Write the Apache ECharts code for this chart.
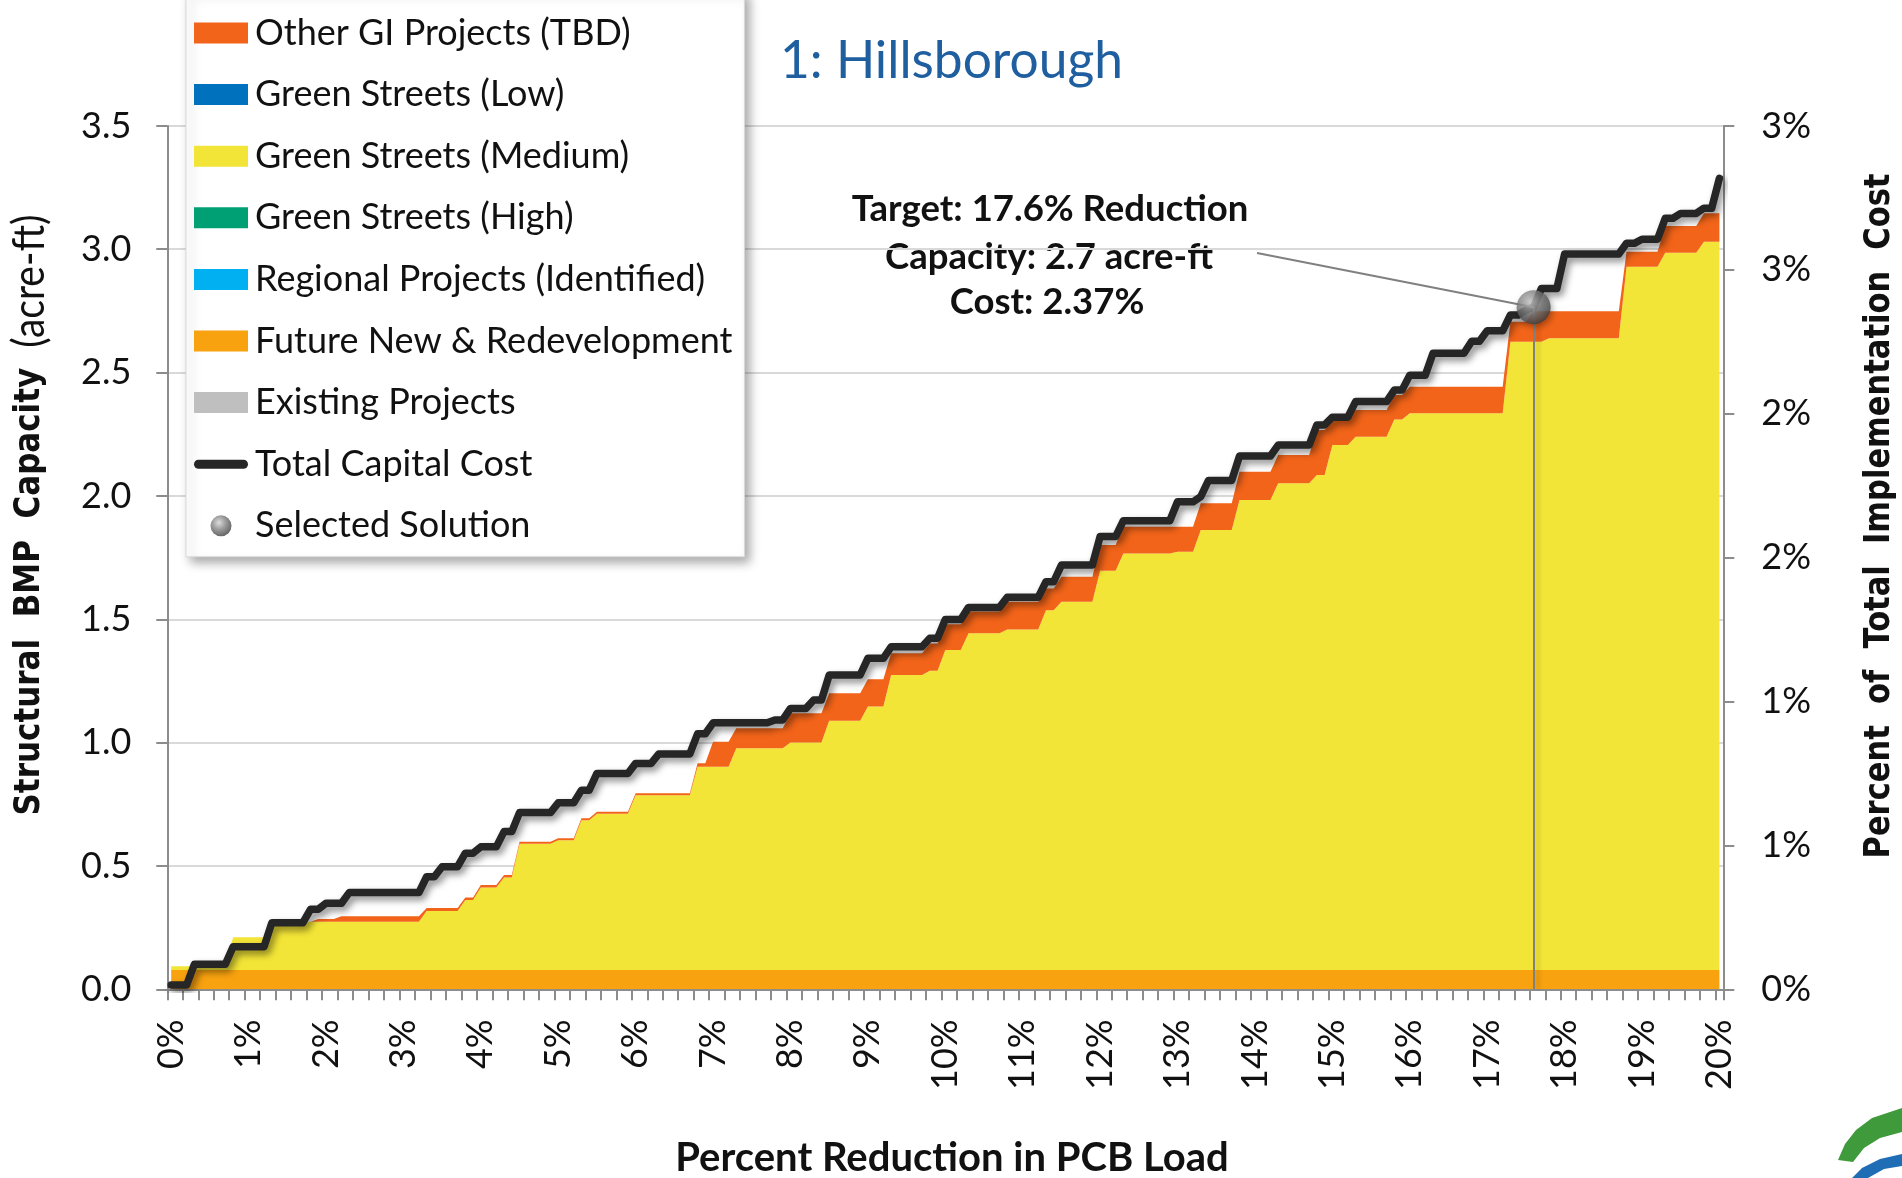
<!DOCTYPE html>
<html><head><meta charset="utf-8">
<script src="https://cdn.jsdelivr.net/npm/echarts@6/dist/echarts.min.js"></script>
<style>html,body{margin:0;padding:0;background:#fff}#c{width:1902px;height:1178px}</style>
</head><body><div id="c"></div>
<script>
// ---- categories: percent reduction in PCB load (0.1% steps) ----
const categories = [
"0.0","0.1","0.2","0.3","0.4","0.5","0.6","0.7","0.8","0.9",
"1.0","1.1","1.2","1.3","1.4","1.5","1.6","1.7","1.8","1.9",
"2.0","2.1","2.2","2.3","2.4","2.5","2.6","2.7","2.8","2.9",
"3.0","3.1","3.2","3.3","3.4","3.5","3.6","3.7","3.8","3.9",
"4.0","4.1","4.2","4.3","4.4","4.5","4.6","4.7","4.8","4.9",
"5.0","5.1","5.2","5.3","5.4","5.5","5.6","5.7","5.8","5.9",
"6.0","6.1","6.2","6.3","6.4","6.5","6.6","6.7","6.8","6.9",
"7.0","7.1","7.2","7.3","7.4","7.5","7.6","7.7","7.8","7.9",
"8.0","8.1","8.2","8.3","8.4","8.5","8.6","8.7","8.8","8.9",
"9.0","9.1","9.2","9.3","9.4","9.5","9.6","9.7","9.8","9.9",
"10.0","10.1","10.2","10.3","10.4","10.5","10.6","10.7","10.8","10.9",
"11.0","11.1","11.2","11.3","11.4","11.5","11.6","11.7","11.8","11.9",
"12.0","12.1","12.2","12.3","12.4","12.5","12.6","12.7","12.8","12.9",
"13.0","13.1","13.2","13.3","13.4","13.5","13.6","13.7","13.8","13.9",
"14.0","14.1","14.2","14.3","14.4","14.5","14.6","14.7","14.8","14.9",
"15.0","15.1","15.2","15.3","15.4","15.5","15.6","15.7","15.8","15.9",
"16.0","16.1","16.2","16.3","16.4","16.5","16.6","16.7","16.8","16.9",
"17.0","17.1","17.2","17.3","17.4","17.5","17.6","17.7","17.8","17.9",
"18.0","18.1","18.2","18.3","18.4","18.5","18.6","18.7","18.8","18.9",
"19.0","19.1","19.2","19.3","19.4","19.5","19.6","19.7","19.8","19.9",
"20.0"];

// ---- stacked capacity layers (acre-ft) ----
const futureDev = [
0.078,0.078,0.078,0.078,0.078,0.078,0.078,0.078,0.078,0.078,
0.078,0.078,0.078,0.078,0.078,0.078,0.078,0.078,0.078,0.078,
0.078,0.078,0.078,0.078,0.078,0.078,0.078,0.078,0.078,0.078,
0.078,0.078,0.078,0.078,0.078,0.078,0.078,0.078,0.078,0.078,
0.078,0.078,0.078,0.078,0.078,0.078,0.078,0.078,0.078,0.078,
0.078,0.078,0.078,0.078,0.078,0.078,0.078,0.078,0.078,0.078,
0.078,0.078,0.078,0.078,0.078,0.078,0.078,0.078,0.078,0.078,
0.078,0.078,0.078,0.078,0.078,0.078,0.078,0.078,0.078,0.078,
0.078,0.078,0.078,0.078,0.078,0.078,0.078,0.078,0.078,0.078,
0.078,0.078,0.078,0.078,0.078,0.078,0.078,0.078,0.078,0.078,
0.078,0.078,0.078,0.078,0.078,0.078,0.078,0.078,0.078,0.078,
0.078,0.078,0.078,0.078,0.078,0.078,0.078,0.078,0.078,0.078,
0.078,0.078,0.078,0.078,0.078,0.078,0.078,0.078,0.078,0.078,
0.078,0.078,0.078,0.078,0.078,0.078,0.078,0.078,0.078,0.078,
0.078,0.078,0.078,0.078,0.078,0.078,0.078,0.078,0.078,0.078,
0.078,0.078,0.078,0.078,0.078,0.078,0.078,0.078,0.078,0.078,
0.078,0.078,0.078,0.078,0.078,0.078,0.078,0.078,0.078,0.078,
0.078,0.078,0.078,0.078,0.078,0.078,0.078,0.078,0.078,0.078,
0.078,0.078,0.078,0.078,0.078,0.078,0.078,0.078,0.078,0.078,
0.078,0.078,0.078,0.078,0.078,0.078,0.078,0.078,0.078,0.078,
0.078];

const greenMedium = [
0.015,0.015,0.015,0.015,0.015,0.015,0.015,0.015,0.133,0.133,
0.133,0.133,0.133,0.196,0.196,0.196,0.196,0.196,0.196,0.196,
0.196,0.196,0.196,0.196,0.196,0.196,0.196,0.196,0.196,0.196,
0.196,0.196,0.196,0.239,0.239,0.239,0.239,0.239,0.284,0.284,
0.335,0.335,0.335,0.375,0.375,0.512,0.512,0.512,0.512,0.512,
0.526,0.526,0.526,0.607,0.607,0.634,0.634,0.634,0.634,0.634,
0.709,0.709,0.709,0.709,0.709,0.709,0.709,0.709,0.824,0.824,
0.824,0.824,0.824,0.899,0.899,0.899,0.899,0.899,0.899,0.899,
0.922,0.922,0.922,0.922,0.922,1.011,1.011,1.011,1.011,1.011,
1.068,1.068,1.068,1.196,1.196,1.196,1.196,1.196,1.213,1.213,
1.297,1.297,1.297,1.365,1.365,1.365,1.365,1.365,1.381,1.381,
1.381,1.381,1.381,1.459,1.459,1.493,1.493,1.493,1.493,1.493,
1.619,1.619,1.619,1.689,1.689,1.689,1.689,1.689,1.689,1.689,
1.696,1.696,1.696,1.784,1.784,1.784,1.784,1.784,1.905,1.905,
1.905,1.905,1.905,1.973,1.973,1.973,1.973,1.973,2.007,2.007,
2.128,2.128,2.128,2.162,2.162,2.162,2.162,2.162,2.232,2.232,
2.257,2.257,2.257,2.257,2.257,2.257,2.257,2.257,2.257,2.257,
2.257,2.257,2.257,2.547,2.547,2.547,2.547,2.547,2.561,2.561,
2.561,2.561,2.561,2.561,2.561,2.561,2.561,2.561,2.851,2.851,
2.851,2.851,2.851,2.908,2.908,2.908,2.908,2.908,2.952,2.952,
2.952];

const otherGI = [
0,0,0,0,0,0,0,0,0,0,
0,0,0,0,0,0,0,0,0,0.011,
0.011,0.011,0.022,0.022,0.022,0.022,0.022,0.022,0.022,0.022,
0.022,0.022,0.022,0.013,0.013,0.013,0.013,0.013,0.010,0.010,
0.010,0.010,0.010,0.010,0.010,0.008,0.008,0.008,0.008,0.008,
0.008,0.008,0.008,0.008,0.008,0.008,0.008,0.008,0.008,0.008,
0.008,0.008,0.008,0.008,0.008,0.008,0.008,0.008,0.014,0.014,
0.102,0.102,0.102,0.081,0.081,0.081,0.081,0.081,0.081,0.081,
0.119,0.119,0.119,0.119,0.119,0.111,0.111,0.111,0.111,0.111,
0.111,0.111,0.111,0.088,0.088,0.088,0.088,0.088,0.111,0.111,
0.105,0.105,0.105,0.088,0.088,0.088,0.088,0.088,0.112,0.112,
0.112,0.112,0.112,0.088,0.088,0.101,0.101,0.101,0.101,0.101,
0.104,0.104,0.104,0.108,0.108,0.108,0.108,0.108,0.108,0.108,
0.101,0.101,0.101,0.108,0.108,0.108,0.108,0.108,0.115,0.115,
0.115,0.115,0.115,0.115,0.115,0.115,0.115,0.115,0.182,0.182,
0.104,0.104,0.104,0.108,0.108,0.108,0.108,0.108,0.099,0.099,
0.108,0.108,0.108,0.108,0.108,0.108,0.108,0.108,0.108,0.108,
0.108,0.108,0.108,0.081,0.081,0.081,0.124,0.124,0.110,0.110,
0.110,0.110,0.110,0.110,0.110,0.110,0.110,0.110,0.061,0.061,
0.061,0.061,0.061,0.108,0.108,0.108,0.108,0.108,0.116,0.116,
0.116];

const existingProjects = [];
const regionalProjects = [];
const greenHigh = [];
const greenLow = [];

// ---- total capital cost (% of total implementation cost) ----
const totalCost = [
0.015,0.015,0.015,0.087,0.087,0.087,0.087,0.087,0.148,0.148,
0.148,0.148,0.148,0.231,0.231,0.231,0.231,0.231,0.278,0.278,
0.299,0.299,0.299,0.336,0.336,0.336,0.336,0.336,0.336,0.336,
0.336,0.336,0.336,0.391,0.391,0.426,0.426,0.426,0.473,0.473,
0.495,0.495,0.495,0.548,0.548,0.614,0.614,0.614,0.614,0.614,
0.648,0.648,0.648,0.692,0.692,0.750,0.750,0.750,0.750,0.750,
0.785,0.785,0.785,0.818,0.818,0.818,0.818,0.818,0.888,0.888,
0.926,0.926,0.926,0.926,0.926,0.926,0.926,0.926,0.936,0.936,
0.976,0.976,0.976,1.005,1.005,1.092,1.092,1.092,1.092,1.092,
1.150,1.150,1.150,1.190,1.190,1.190,1.190,1.190,1.220,1.220,
1.285,1.285,1.285,1.327,1.327,1.327,1.327,1.327,1.362,1.362,
1.362,1.362,1.362,1.416,1.416,1.474,1.474,1.474,1.474,1.474,
1.573,1.573,1.573,1.628,1.628,1.628,1.628,1.628,1.628,1.628,
1.694,1.694,1.694,1.712,1.768,1.768,1.768,1.768,1.853,1.853,
1.853,1.853,1.853,1.891,1.891,1.891,1.891,1.891,1.961,1.961,
1.988,1.988,1.988,2.042,2.042,2.042,2.042,2.042,2.082,2.082,
2.134,2.134,2.134,2.210,2.210,2.210,2.210,2.210,2.252,2.252,
2.288,2.288,2.288,2.343,2.343,2.360,2.370,2.435,2.435,2.435,
2.555,2.555,2.555,2.555,2.555,2.555,2.555,2.555,2.592,2.592,
2.606,2.606,2.606,2.679,2.679,2.696,2.696,2.696,2.714,2.714,
2.818];

const selectedPoint = ["17.6", 2.37];
const annotationLines = ["Target: 17.6% Reduction", "Capacity: 2.7 acre-ft", "Cost: 2.37%"];
const leftAxis = {min: 0, max: 3.5, interval: 0.5};
const rightAxis = {min: 0, max: 3, interval: 0.5};

const FONT = 'Lato';
const C = {
  other: '#F26419', low: '#0071BC', medium: '#F3E537', high: '#00A074',
  regional: '#00B0F0', future: '#F8A20F', existing: '#BFBFBF', line: '#262626'
};
const ballColor = {type: 'radial', x: 0.4, y: 0.35, r: 0.7, colorStops: [
  {offset: 0, color: '#d4d4d4'}, {offset: 0.45, color: '#858585'}, {offset: 1, color: '#383838'}]};

function area(name, data, color, stacked) {
  const s = {name, type: 'line', data, yAxisIndex: 0, symbol: 'none', showSymbol: false,
    color: color, lineStyle: {width: 0, color: color}, itemStyle: {color: color},
    areaStyle: {color: color, opacity: 1}, emphasis: {disabled: true}, silent: true, z: 2};
  if (stacked) s.stack = 'capacity';
  return s;
}

const chart = echarts.init(document.getElementById('c'), null, {renderer: 'canvas'});
chart.setOption({
  animation: false,
  backgroundColor: '#ffffff',
  grid: {left: 167.3, right: 178.7, top: 125.9, bottom: 188.7, containLabel: false},
  legend: {
    orient: 'vertical', left: 186, top: -8,
    padding: [21, 12, 11, 8], itemGap: 21.6, itemWidth: 54, itemHeight: 21,
    backgroundColor: '#ffffff', borderColor: '#d9d9d9', borderWidth: 1,
    shadowColor: 'rgba(0,0,0,0.35)', shadowBlur: 10, shadowOffsetX: 5, shadowOffsetY: 5,
    selectedMode: false,
    textStyle: {fontFamily: FONT, fontSize: 36, color: '#111', lineHeight: 40, padding: [0, 0, 0, 2]},
    data: [
      {name: 'Other GI Projects (TBD)', icon: 'rect', itemStyle: {color: C.other, borderWidth: 0}},
      {name: 'Green Streets (Low)', icon: 'rect', itemStyle: {color: C.low, borderWidth: 0}},
      {name: 'Green Streets (Medium)', icon: 'rect', itemStyle: {color: C.medium, borderWidth: 0}},
      {name: 'Green Streets (High)', icon: 'rect', itemStyle: {color: C.high, borderWidth: 0}},
      {name: 'Regional Projects (Identified)', icon: 'rect', itemStyle: {color: C.regional, borderWidth: 0}},
      {name: 'Future New & Redevelopment', icon: 'rect', itemStyle: {color: C.future, borderWidth: 0}},
      {name: 'Existing Projects', icon: 'rect', itemStyle: {color: C.existing, borderWidth: 0}},
      {name: 'Total Capital Cost', icon: 'path://M5,0 L55,0 A5,5 0 0 1 55,10 L5,10 A5,5 0 0 1 5,0 Z', itemStyle: {color: C.line, borderWidth: 0}},
      {name: 'Selected Solution', icon: 'circle', itemStyle: {color: ballColor, borderWidth: 0}}
    ]
  },
  xAxis: {
    type: 'category', data: categories, boundaryGap: true,
    axisLine: {show: true, lineStyle: {color: '#8c8c8c', width: 2}},
    axisTick: {show: true, interval: 1, length: 11, lineStyle: {color: '#8c8c8c', width: 2}},
    axisLabel: {interval: 9, rotate: 90, margin: 30, fontFamily: FONT, fontSize: 36, color: '#111',
      formatter: v => parseFloat(v) + '%'},
    splitLine: {show: false}
  },
  yAxis: [
    {type: 'value', position: 'left', min: leftAxis.min, max: leftAxis.max, interval: leftAxis.interval,
      axisLine: {show: true, lineStyle: {color: '#8c8c8c', width: 2}},
      axisTick: {show: true, length: 11, lineStyle: {color: '#8c8c8c', width: 2}},
      axisLabel: {margin: 36, fontFamily: FONT, fontSize: 36, color: '#111', formatter: v => v.toFixed(1)},
      splitLine: {show: true, lineStyle: {color: '#d9d9d9', width: 2}}},
    {type: 'value', position: 'right', min: rightAxis.min, max: rightAxis.max, interval: rightAxis.interval,
      axisLine: {show: true, lineStyle: {color: '#8c8c8c', width: 2}},
      axisTick: {show: true, length: 11, lineStyle: {color: '#8c8c8c', width: 2}},
      axisLabel: {margin: 38, fontFamily: FONT, fontSize: 36, color: '#111', formatter: v => Math.round(v) + '%'},
      splitLine: {show: false}}
  ],
  series: [
    area('Existing Projects', existingProjects, C.existing, false),
    area('Future New & Redevelopment', futureDev, C.future, true),
    area('Regional Projects (Identified)', regionalProjects, C.regional, false),
    area('Green Streets (High)', greenHigh, C.high, false),
    area('Green Streets (Medium)', greenMedium, C.medium, true),
    area('Green Streets (Low)', greenLow, C.low, false),
    area('Other GI Projects (TBD)', otherGI, C.other, true),
    {name: 'Total Capital Cost', type: 'line', yAxisIndex: 1, data: totalCost, symbol: 'none', showSymbol: false,
      color: C.line, itemStyle: {color: C.line},
      lineStyle: {color: C.line, width: 7.5, join: 'round', cap: 'round',
        shadowColor: 'rgba(0,0,0,0.45)', shadowBlur: 7, shadowOffsetX: 3, shadowOffsetY: 4},
      emphasis: {disabled: true}, silent: true, z: 3},
    {name: 'Selected Solution', type: 'scatter', yAxisIndex: 1, data: [selectedPoint], symbol: 'circle', symbolSize: 34,
      itemStyle: {color: ballColor, shadowColor: 'rgba(0,0,0,0.4)', shadowBlur: 6, shadowOffsetX: 2, shadowOffsetY: 3},
      emphasis: {disabled: true}, silent: true, z: 10,
      markLine: {
        silent: true, symbol: ['none', 'none'], z: 4, label: {show: false}, emphasis: {disabled: true},
        lineStyle: {color: '#808080', width: 2, type: 'solid'},
        data: [
          [{coord: selectedPoint, lineStyle: {shadowColor: 'rgba(0,0,0,0.18)', shadowBlur: 4, shadowOffsetX: 4}},
           {coord: [selectedPoint[0], 0]}],
          [{x: 1257, y: 253}, {coord: selectedPoint}]
        ]
      }}
  ],
  graphic: [
    {type: 'text', x: 780, y: 61, style: {text: '1: Hillsborough', fontFamily: FONT, fontSize: 51.5, fill: '#1F5FA0', align: 'left', verticalAlign: 'middle'}},
    {type: 'text', x: 1050, y: 209, style: {text: annotationLines[0], fontFamily: FONT, fontWeight: 'bold', fontSize: 36.5, fill: '#111', align: 'center', verticalAlign: 'middle'}},
    {type: 'text', x: 1049, y: 257, style: {text: annotationLines[1], fontFamily: FONT, fontWeight: 'bold', fontSize: 36.5, fill: '#111', align: 'center', verticalAlign: 'middle'}},
    {type: 'text', x: 1047, y: 302, style: {text: annotationLines[2], fontFamily: FONT, fontWeight: 'bold', fontSize: 36.5, fill: '#111', align: 'center', verticalAlign: 'middle'}},
    {type: 'text', x: 952, y: 1158, style: {text: 'Percent Reduction in PCB Load', fontFamily: FONT, fontWeight: 'bold', fontSize: 40, fill: '#111', align: 'center', verticalAlign: 'middle'}},
    {type: 'text', x: 30, y: 515, rotation: Math.PI / 2, scaleY: 1.15,
      style: {text: '{b|Structural  BMP  Capacity}{n|  (acre-ft)}', align: 'center', verticalAlign: 'middle',
        rich: {b: {fontFamily: 'DejaVu Sans', fontWeight: 'bold', fontSize: 31, fill: '#111'},
               n: {fontFamily: FONT, fontSize: 39, fill: '#111'}}}},
    {type: 'text', x: 1880, y: 516, rotation: Math.PI / 2, scaleY: 1.15,
      style: {text: 'Percent  of  Total  Implementation  Cost', fontFamily: 'DejaVu Sans', fontWeight: 'bold', fontSize: 30.5, fill: '#111', align: 'center', verticalAlign: 'middle'}},
    {type: 'polygon', silent: true, shape: {points: [[1838,1160],[1845,1144],[1856,1130],[1872,1118],[1902,1108],[1902,1132],[1880,1138],[1864,1148],[1853,1162]]}, style: {fill: '#3E9A3A'}},
    {type: 'polygon', silent: true, shape: {points: [[1852,1178],[1862,1168],[1880,1159],[1902,1154],[1902,1166],[1884,1169],[1868,1178]]}, style: {fill: '#1F6DB4'}}
  ]
});
</script>
</body></html>
